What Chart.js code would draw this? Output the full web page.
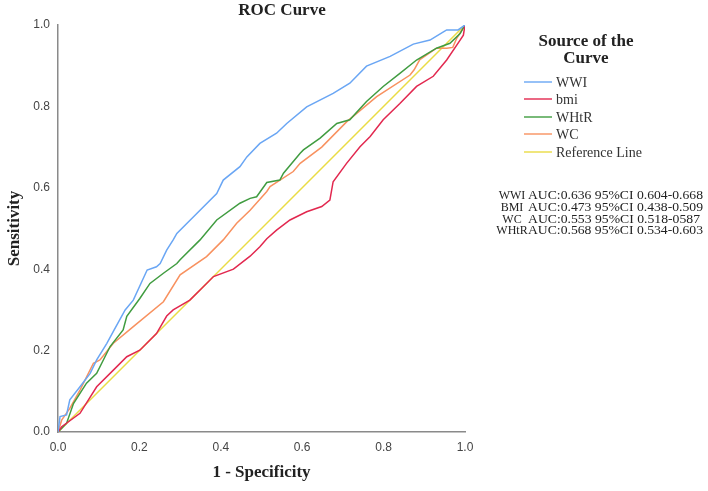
<!DOCTYPE html>
<html>
<head>
<meta charset="utf-8">
<script src="https://cdn.jsdelivr.net/npm/chart.js@4.4.1/dist/chart.umd.min.js"></script>
<style>
  html, body { margin: 0; padding: 0; background: #fff; }
  #wrap { width: 708px; height: 491px; }
</style>
</head>
<body>
<div id="wrap"><canvas id="roc"></canvas></div>
<script>
// values: 1 - specificity (x) and sensitivity (y)
const seriesNames = ['WWI', 'bmi', 'WHtR', 'WC', 'Reference Line'];
const seriesColors = ['#6aa6f4', '#e2284f', '#409c40', '#f8915f', '#e9dc45'];

const wwiX = [0, .005, .021, .029, .054, .079, .095, .120, .138, .165, .185, .219, .242, .251, .267, .283, .292, .341, .390, .406, .447, .464, .496, .537, .562, .611, .676, .717, .758, .816, .873, .914, .947, .955, .983, 1];
const wwiY = [0, .038, .042, .079, .111, .144, .177, .218, .251, .300, .324, .398, .406, .414, .447, .472, .488, .537, .586, .619, .652, .676, .709, .734, .758, .799, .832, .857, .899, .923, .953, .963, .983, .988, .988, 1];

const bmiX = [0, .009, .054, .095, .136, .169, .201, .242, .267, .283, .324, .349, .382, .431, .472, .496, .513, .537, .570, .611, .648, .668, .676, .709, .742, .767, .799, .840, .881, .922, .955, .988, .996, 1];
const bmiY = [0, .013, .046, .111, .152, .185, .201, .242, .285, .300, .324, .349, .382, .400, .432, .455, .475, .496, .521, .541, .554, .570, .615, .660, .701, .726, .767, .807, .849, .874, .914, .963, .975, 1];

const whtrX = [0, .021, .038, .070, .095, .128, .160, .169, .201, .226, .259, .292, .300, .349, .390, .447, .472, .488, .513, .545, .554, .595, .603, .644, .685, .717, .758, .799, .840, .881, .930, .963, .988, 1];
const whtrY = [0, .021, .070, .120, .144, .210, .251, .284, .328, .365, .390, .414, .423, .472, .521, .562, .574, .578, .613, .619, .636, .685, .693, .722, .758, .767, .812, .849, .881, .914, .943, .955, .979, 1];

const wcX = [0, .009, .029, .054, .087, .103, .136, .185, .259, .300, .365, .406, .439, .472, .513, .521, .578, .595, .648, .709, .783, .865, .875, .889, .930, .955, .970, .980, 1];
const wcY = [0, .029, .058, .103, .169, .177, .218, .259, .320, .386, .431, .472, .513, .545, .591, .603, .640, .660, .700, .762, .824, .877, .890, .915, .943, .943, .945, .968, 1];

const refX = [0, 1];
const refY = [0, 1];

const xTicks = [0, 0.2, 0.4, 0.6, 0.8, 1.0];
const yTicks = [0, 0.2, 0.4, 0.6, 0.8, 1.0];

const aucNames = ['WWI', 'BMI', 'WC', 'WHtR'];
const aucTexts = [
  'AUC:0.636 95%CI 0.604-0.668',
  'AUC:0.473 95%CI 0.438-0.509',
  'AUC:0.553 95%CI 0.518-0587',
  'AUC:0.568 95%CI 0.534-0.603'
];

const serif = '"Liberation Serif", "Times New Roman", serif';
const sans = '"Liberation Sans", Arial, sans-serif';

function pts(xs, ys) {
  return xs.map((x, i) => ({ x: x, y: ys[i] }));
}

const allX = [wwiX, bmiX, whtrX, wcX, refX];
const allY = [wwiY, bmiY, whtrY, wcY, refY];

const datasets = seriesNames.map((name, i) => ({
  label: name,
  data: pts(allX[i], allY[i]),
  borderColor: seriesColors[i],
  backgroundColor: seriesColors[i],
  borderWidth: 1.5,
  pointRadius: 0,
  tension: 0,
  fill: false,
  order: i == 4 ? 5 : i
}));

// title, legend block and AUC notes
const extras = {
  id: 'extras',
  afterDraw(chart) {
    const ctx = chart.ctx;
    ctx.save();
    ctx.fillStyle = '#222';
    ctx.textBaseline = 'middle';

    ctx.textAlign = 'center';
    ctx.font = 'bold 17px ' + serif;
    ctx.fillText('ROC Curve', 282, 11);

    ctx.fillText('Source of the', 586, 42);
    ctx.fillText('Curve', 586, 59);

    let ys = [82, 99, 117, 134, 152];
    ctx.font = '14px ' + serif;
    ctx.textAlign = 'left';
    chart.data.datasets.forEach((ds, i) => {
      ctx.strokeStyle = ds.borderColor;
      ctx.globalAlpha = 0.7;
      ctx.lineWidth = 2;
      ctx.beginPath();
      ctx.moveTo(524, ys[i]);
      ctx.lineTo(552, ys[i]);
      ctx.stroke();
      ctx.globalAlpha = 1;
      ctx.fillStyle = '#333';
      ctx.fillText(ds.label, 556, ys[i] + 1);
    });

    // the notes are wider than the serif font draws them, so stretch to fit
    ctx.fillStyle = '#222';
    let rows = [196, 208, 219.5, 231];
    aucNames.forEach((n, i) => {
      ctx.font = '12px ' + serif;
      ctx.textAlign = 'center';
      ctx.fillText(n, 512, rows[i]);
      ctx.font = '13px ' + serif;
      ctx.textAlign = 'left';
      let w = ctx.measureText(aucTexts[i]).width;
      let target = i == 2 ? 172 : 175;
      ctx.save();
      ctx.translate(528, rows[i]);
      ctx.scale(target / w, 1);
      ctx.fillText(aucTexts[i], 0, 0);
      ctx.restore();
    });
    ctx.restore();
  }
};

new Chart(document.getElementById('roc'), {
  type: 'line',
  data: { datasets: datasets },
  plugins: [extras],
  options: {
    responsive: true,
    maintainAspectRatio: false,
    animation: false,
    layout: { padding: { top: 25, right: 243, left: 0, bottom: 0 } },
    plugins: {
      legend: { display: false },
      tooltip: { enabled: false },
      title: { display: false }
    },
    scales: {
      x: {
        type: 'linear',
        min: 0,
        max: 1,
        afterFit: s => { s.height = 59 },
        afterBuildTicks: s => { s.ticks = xTicks.map(v => ({ value: v })) },
        grid: { display: false, drawTicks: false },
        border: { display: true, color: '#8a8a8a', width: 1.5 },
        ticks: {
          padding: 8,
          color: '#444',
          font: { family: sans, size: 12 },
          callback: v => v.toFixed(1)
        },
        title: {
          display: true,
          text: '1 - Specificity',
          color: '#222',
          font: { family: serif, size: 17, weight: 'bold' },
          padding: { top: 0, bottom: 8 }
        }
      },
      y: {
        type: 'linear',
        min: 0,
        max: 1,
        afterFit: s => { s.width = 58 },
        afterBuildTicks: s => { s.ticks = yTicks.map(v => ({ value: v })) },
        grid: { display: false, drawTicks: false },
        border: { display: true, color: '#8a8a8a', width: 1.5 },
        ticks: {
          padding: 8,
          color: '#444',
          font: { family: sans, size: 12 },
          callback: v => v.toFixed(1)
        },
        title: {
          display: true,
          text: 'Sensitivity',
          color: '#222',
          font: { family: serif, size: 17, weight: 'bold' },
          padding: { top: 4, bottom: 0 }
        }
      }
    }
  }
});
</script>
</body>
</html>
